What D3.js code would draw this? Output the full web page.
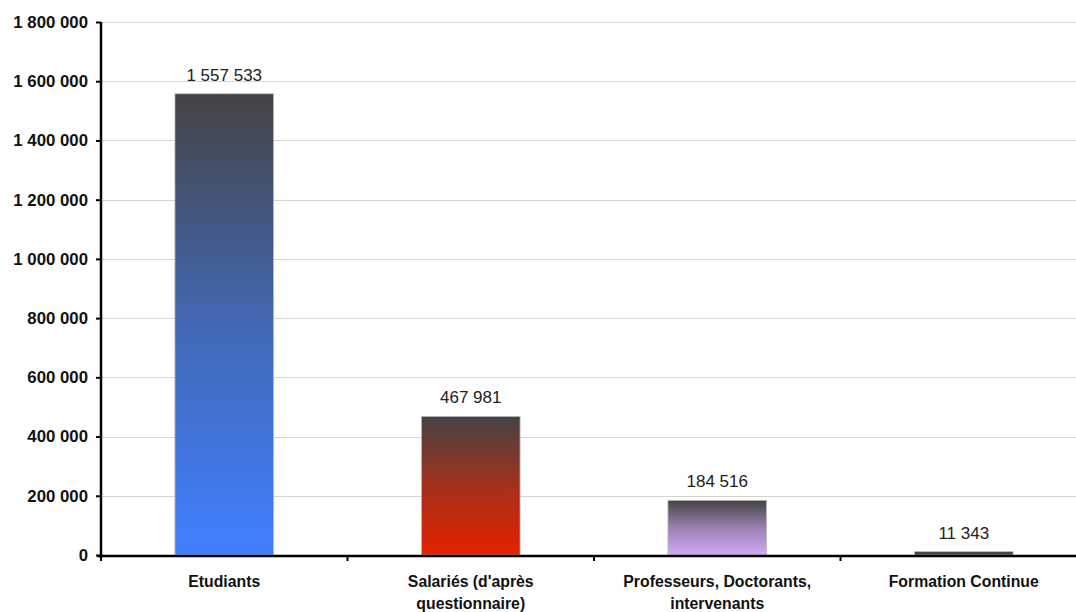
<!DOCTYPE html>
<html>
<head>
<meta charset="utf-8">
<script src="https://cdn.jsdelivr.net/npm/d3@7"></script>
<style>
  html, body { margin: 0; padding: 0; background: #fff; }
  svg { display: block; font-family: "Liberation Sans", Arial, sans-serif; }
</style>
</head>
<body>
<svg id="chart" width="1076" height="612"></svg>
<script>
// Répartition des effectifs par population
const categories = [
  ["Etudiants"],
  ["Salariés (d'après", "questionnaire)"],
  ["Professeurs, Doctorants,", "intervenants"],
  ["Formation Continue"]
];
const values = [1557533, 467981, 184516, 11343];
const baseColors = ["#4080ff", "#e42200", "#d4aaf8", "#444444"];
const topColor = "#444444";
const yTicks = [0, 200000, 400000, 600000, 800000, 1000000, 1200000, 1400000, 1600000, 1800000];

const fmt = v => d3.format(",")(v).replace(/,/g, " ");

const svg = d3.select("#chart");
const plotLeft = 101, plotRight = 1087, plotTop = 22, plotBottom = 555;

const x = d3.scaleBand()
  .domain(d3.range(categories.length))
  .range([plotLeft, plotRight])
  .paddingInner(0.6)
  .paddingOuter(0.3);

const y = d3.scaleLinear().domain([0, 1800000]).range([plotBottom, plotTop]);

// gradients: dark at the top, full colour at the base
const defs = svg.append("defs");
baseColors.forEach((c, i) => {
  const g = defs.append("linearGradient")
    .attr("id", "grad" + i)
    .attr("x1", 0).attr("y1", 0).attr("x2", 0).attr("y2", 1);
  const mix = d3.interpolateRgb(topColor, c);
  g.append("stop").attr("offset", "0%").attr("stop-color", topColor);
  g.append("stop").attr("offset", "50%").attr("stop-color", mix(0.6));
  g.append("stop").attr("offset", "100%").attr("stop-color", c);
});

// horizontal grid
svg.append("g")
  .selectAll("line")
  .data(yTicks.filter(d => d > 0))
  .join("line")
  .attr("x1", plotLeft).attr("x2", 1076)
  .attr("y1", d => Math.round(y(d)) + 0.5)
  .attr("y2", d => Math.round(y(d)) + 0.5)
  .attr("stroke", "#d4d4d4")
  .attr("stroke-width", 1);

// bars
svg.append("g")
  .selectAll("rect")
  .data(values)
  .join("rect")
  .attr("x", (d, i) => x(i))
  .attr("width", x.bandwidth())
  .attr("y", d => y(d))
  .attr("height", d => plotBottom - y(d))
  .attr("fill", (d, i) => `url(#grad${i})`)
  .attr("stroke", "#b8b8b8")
  .attr("stroke-width", 0.8);

// value labels
svg.append("g")
  .selectAll("text")
  .data(values)
  .join("text")
  .attr("x", (d, i) => x(i) + x.bandwidth() / 2)
  .attr("y", d => y(d) - 13)
  .attr("text-anchor", "middle")
  .attr("font-size", 17)
  .attr("fill", "#222")
  .text(d => fmt(d));

// y axis
const yAxis = d3.axisLeft(y)
  .tickValues(yTicks)
  .tickSize(5)
  .tickFormat(fmt);
const gy = svg.append("g")
  .attr("transform", `translate(${plotLeft},0)`)
  .call(yAxis);
gy.select(".domain")
  .attr("stroke", "#000").attr("stroke-width", 2.5)
  .attr("d", `M0,${plotTop}V${plotBottom + 3}`);
gy.selectAll(".tick line").attr("stroke", "#000").attr("stroke-width", 2);
gy.selectAll(".tick text")
  .attr("x", -13)
  .attr("font-size", 16.8)
  .attr("font-weight", "bold")
  .attr("fill", "#111")
  .attr("font-family", "Liberation Sans, Arial, sans-serif");

// x axis
const gx = svg.append("g");
gx.append("line")
  .attr("x1", plotLeft - 4).attr("x2", 1076)
  .attr("y1", plotBottom + 1).attr("y2", plotBottom + 1)
  .attr("stroke", "#000").attr("stroke-width", 2.5);
const boundaries = d3.range(categories.length).map(i => x(i) - x.step() * x.paddingInner() / 2);
gx.selectAll("line.tick")
  .data(boundaries)
  .join("line")
  .attr("class", "tick")
  .attr("x1", d => d).attr("x2", d => d)
  .attr("y1", plotBottom).attr("y2", plotBottom + 6)
  .attr("stroke", "#000").attr("stroke-width", 2);
gx.selectAll("line.tick").filter((d, i) => i === 0).attr("x1", plotLeft).attr("x2", plotLeft);
d3.range(categories.length).forEach(i => {
  const t = gx.append("text")
    .attr("x", x(i) + x.bandwidth() / 2)
    .attr("y", 587)
    .attr("text-anchor", "middle")
    .attr("font-size", 15.8)
    .attr("font-weight", "bold")
    .attr("fill", "#111");
  categories[i].forEach((line, j) => {
    t.append("tspan")
      .attr("x", x(i) + x.bandwidth() / 2)
      .attr("dy", j === 0 ? 0 : 22)
      .text(line);
  });
});
</script>
</body>
</html>
